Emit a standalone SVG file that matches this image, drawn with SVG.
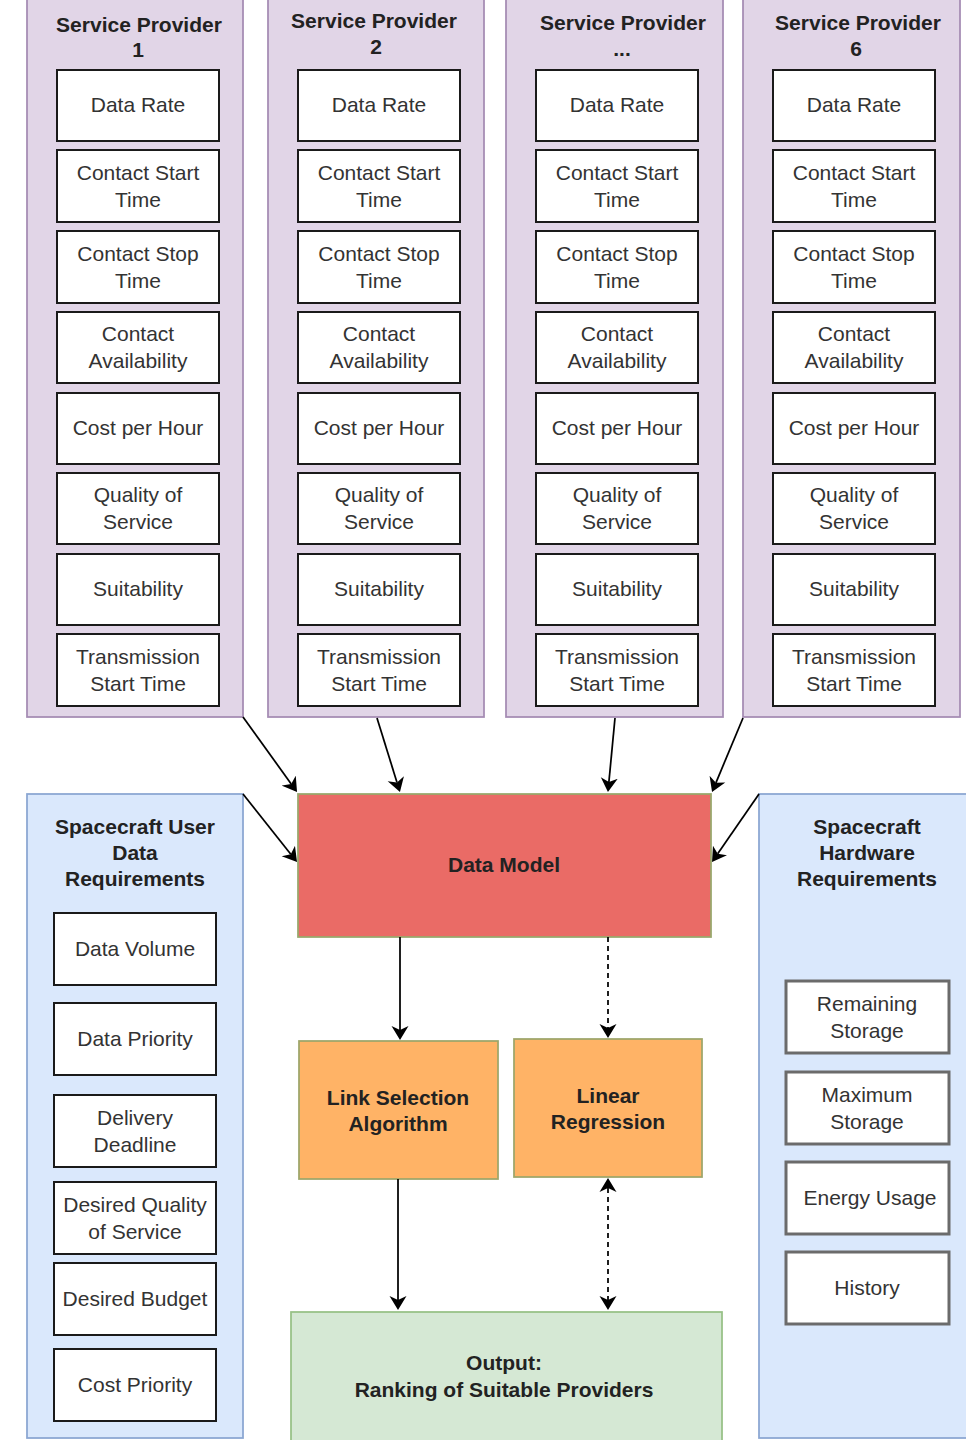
<svg xmlns="http://www.w3.org/2000/svg" width="966" height="1440" viewBox="0 0 966 1440">
  <style>
    text { font-family: "Liberation Sans", Arial, sans-serif; font-size: 21px; text-anchor: middle; fill: #333333; }
    .title { font-weight: bold; fill: #222222; }
    .provider { fill: #e1d5e7; stroke: #a48bb3; stroke-width: 1.75; }
    .item { fill: #ffffff; stroke: #1a1a1a; stroke-width: 2; }
    .hwitem { fill: #ffffff; stroke: #6b6b6b; stroke-width: 3; }
    .req { fill: #dae8fc; stroke: #8aa6d2; stroke-width: 1.75; }
    .model { fill: #ea6b66; stroke: #98a86c; stroke-width: 1.75; }
    .algo { fill: #ffb366; stroke: #9ea66a; stroke-width: 1.75; }
    .out { fill: #d5e8d4; stroke: #97c186; stroke-width: 1.75; }
    .edge { fill: none; stroke: #000000; stroke-width: 1.75; }
    .dashed { stroke-dasharray: 5 4; }
  </style>
  <defs>
    <marker id="arrow" viewBox="0 0 14 18" refX="4" refY="9" markerWidth="14" markerHeight="18" markerUnits="userSpaceOnUse" orient="auto-start-reverse">
      <path d="M14,9 L0,0.5 L4,9 L0,17.5 Z" fill="#000000"/>
    </marker>
  </defs>

  <rect width="966" height="1440" fill="#ffffff"/>

  <!-- Service provider 1 -->
  <g id="provider-1">
    <rect class="provider" x="27" y="-5" width="216" height="722"/>
    <text class="title" x="139" y="32">Service Provider</text>
    <text class="title" x="138" y="57">1</text>
    <rect class="item" x="57" y="70" width="162" height="71"/>
    <text x="138" y="112">Data Rate</text>
    <rect class="item" x="57" y="150" width="162" height="72"/>
    <text x="138" y="180">Contact Start</text>
    <text x="138" y="207">Time</text>
    <rect class="item" x="57" y="231" width="162" height="72"/>
    <text x="138" y="261">Contact Stop</text>
    <text x="138" y="288">Time</text>
    <rect class="item" x="57" y="312" width="162" height="71"/>
    <text x="138" y="341">Contact</text>
    <text x="138" y="368">Availability</text>
    <rect class="item" x="57" y="393" width="162" height="71"/>
    <text x="138" y="435">Cost per Hour</text>
    <rect class="item" x="57" y="473" width="162" height="71"/>
    <text x="138" y="502">Quality of</text>
    <text x="138" y="529">Service</text>
    <rect class="item" x="57" y="554" width="162" height="71"/>
    <text x="138" y="596">Suitability</text>
    <rect class="item" x="57" y="634" width="162" height="72"/>
    <text x="138" y="664">Transmission</text>
    <text x="138" y="691">Start Time</text>
  </g>

  <!-- Service provider 2 -->
  <g id="provider-2">
    <rect class="provider" x="268" y="-5" width="216" height="722"/>
    <text class="title" x="374" y="28">Service Provider</text>
    <text class="title" x="376" y="54">2</text>
    <rect class="item" x="298" y="70" width="162" height="71"/>
    <text x="379" y="112">Data Rate</text>
    <rect class="item" x="298" y="150" width="162" height="72"/>
    <text x="379" y="180">Contact Start</text>
    <text x="379" y="207">Time</text>
    <rect class="item" x="298" y="231" width="162" height="72"/>
    <text x="379" y="261">Contact Stop</text>
    <text x="379" y="288">Time</text>
    <rect class="item" x="298" y="312" width="162" height="71"/>
    <text x="379" y="341">Contact</text>
    <text x="379" y="368">Availability</text>
    <rect class="item" x="298" y="393" width="162" height="71"/>
    <text x="379" y="435">Cost per Hour</text>
    <rect class="item" x="298" y="473" width="162" height="71"/>
    <text x="379" y="502">Quality of</text>
    <text x="379" y="529">Service</text>
    <rect class="item" x="298" y="554" width="162" height="71"/>
    <text x="379" y="596">Suitability</text>
    <rect class="item" x="298" y="634" width="162" height="72"/>
    <text x="379" y="664">Transmission</text>
    <text x="379" y="691">Start Time</text>
  </g>

  <!-- Further service providers -->
  <g id="provider-n">
    <rect class="provider" x="506" y="-5" width="217" height="722"/>
    <text class="title" x="623" y="30">Service Provider</text>
    <text class="title" x="622" y="56">...</text>
    <rect class="item" x="536" y="70" width="162" height="71"/>
    <text x="617" y="112">Data Rate</text>
    <rect class="item" x="536" y="150" width="162" height="72"/>
    <text x="617" y="180">Contact Start</text>
    <text x="617" y="207">Time</text>
    <rect class="item" x="536" y="231" width="162" height="72"/>
    <text x="617" y="261">Contact Stop</text>
    <text x="617" y="288">Time</text>
    <rect class="item" x="536" y="312" width="162" height="71"/>
    <text x="617" y="341">Contact</text>
    <text x="617" y="368">Availability</text>
    <rect class="item" x="536" y="393" width="162" height="71"/>
    <text x="617" y="435">Cost per Hour</text>
    <rect class="item" x="536" y="473" width="162" height="71"/>
    <text x="617" y="502">Quality of</text>
    <text x="617" y="529">Service</text>
    <rect class="item" x="536" y="554" width="162" height="71"/>
    <text x="617" y="596">Suitability</text>
    <rect class="item" x="536" y="634" width="162" height="72"/>
    <text x="617" y="664">Transmission</text>
    <text x="617" y="691">Start Time</text>
  </g>

  <!-- Service provider 6 -->
  <g id="provider-6">
    <rect class="provider" x="743" y="-5" width="217" height="722"/>
    <text class="title" x="858" y="30">Service Provider</text>
    <text class="title" x="856" y="56">6</text>
    <rect class="item" x="773" y="70" width="162" height="71"/>
    <text x="854" y="112">Data Rate</text>
    <rect class="item" x="773" y="150" width="162" height="72"/>
    <text x="854" y="180">Contact Start</text>
    <text x="854" y="207">Time</text>
    <rect class="item" x="773" y="231" width="162" height="72"/>
    <text x="854" y="261">Contact Stop</text>
    <text x="854" y="288">Time</text>
    <rect class="item" x="773" y="312" width="162" height="71"/>
    <text x="854" y="341">Contact</text>
    <text x="854" y="368">Availability</text>
    <rect class="item" x="773" y="393" width="162" height="71"/>
    <text x="854" y="435">Cost per Hour</text>
    <rect class="item" x="773" y="473" width="162" height="71"/>
    <text x="854" y="502">Quality of</text>
    <text x="854" y="529">Service</text>
    <rect class="item" x="773" y="554" width="162" height="71"/>
    <text x="854" y="596">Suitability</text>
    <rect class="item" x="773" y="634" width="162" height="72"/>
    <text x="854" y="664">Transmission</text>
    <text x="854" y="691">Start Time</text>
  </g>

  <!-- Spacecraft user data requirements -->
  <g id="user-requirements">
    <rect class="req" x="27" y="794" width="216" height="644"/>
    <text class="title" x="135" y="834">Spacecraft User</text>
    <text class="title" x="135" y="860">Data</text>
    <text class="title" x="135" y="886">Requirements</text>
    <rect class="item" x="54" y="913" width="162" height="72"/>
    <text x="135" y="956">Data Volume</text>
    <rect class="item" x="54" y="1003" width="162" height="72"/>
    <text x="135" y="1046">Data Priority</text>
    <rect class="item" x="54" y="1095" width="162" height="72"/>
    <text x="135" y="1125">Delivery</text>
    <text x="135" y="1152">Deadline</text>
    <rect class="item" x="54" y="1182" width="162" height="72"/>
    <text x="135" y="1212">Desired Quality</text>
    <text x="135" y="1239">of Service</text>
    <rect class="item" x="54" y="1263" width="162" height="72"/>
    <text x="135" y="1306">Desired Budget</text>
    <rect class="item" x="54" y="1349" width="162" height="72"/>
    <text x="135" y="1392">Cost Priority</text>
  </g>

  <!-- Spacecraft hardware requirements -->
  <g id="hardware-requirements">
    <rect class="req" x="759" y="794" width="220" height="644"/>
    <text class="title" x="867" y="834">Spacecraft</text>
    <text class="title" x="867" y="860">Hardware</text>
    <text class="title" x="867" y="886">Requirements</text>
    <rect class="hwitem" x="786" y="981" width="163" height="72"/>
    <text x="867" y="1011">Remaining</text>
    <text x="867" y="1038">Storage</text>
    <rect class="hwitem" x="786" y="1072" width="163" height="72"/>
    <text x="867" y="1102">Maximum</text>
    <text x="867" y="1129">Storage</text>
    <rect class="hwitem" x="786" y="1162" width="163" height="72"/>
    <text x="870" y="1205">Energy Usage</text>
    <rect class="hwitem" x="786" y="1252" width="163" height="72"/>
    <text x="867" y="1295">History</text>
  </g>

  <!-- Data model -->
  <g id="data-model">
    <rect class="model" x="298" y="794" width="413" height="143"/>
    <text class="title" x="504" y="872">Data Model</text>
  </g>

  <!-- Link selection algorithm -->
  <g id="link-selection">
    <rect class="algo" x="299" y="1041" width="199" height="138"/>
    <text class="title" x="398" y="1105">Link Selection</text>
    <text class="title" x="398" y="1131">Algorithm</text>
  </g>

  <!-- Linear regression -->
  <g id="linear-regression">
    <rect class="algo" x="514" y="1039" width="188" height="138"/>
    <text class="title" x="608" y="1103">Linear</text>
    <text class="title" x="608" y="1129">Regression</text>
  </g>

  <!-- Output -->
  <g id="output">
    <rect class="out" x="291" y="1312" width="431" height="140"/>
    <text class="title" x="504" y="1370">Output:</text>
    <text class="title" x="504" y="1397">Ranking of Suitable Providers</text>
  </g>

  <!-- Connectors -->
  <g id="connectors">
    <path class="edge" d="M243,717 L291.2,783.9" marker-end="url(#arrow)"/>
    <path class="edge" d="M377,718 L397,782.5" marker-end="url(#arrow)"/>
    <path class="edge" d="M615,718 L608.9,782" marker-end="url(#arrow)"/>
    <path class="edge" d="M743,718 L715.9,782.8" marker-end="url(#arrow)"/>
    <path class="edge" d="M243,794 L290.8,854.2" marker-end="url(#arrow)"/>
    <path class="edge" d="M759,794 L717.7,853.8" marker-end="url(#arrow)"/>
    <path class="edge" d="M400,937 L400,1030" marker-end="url(#arrow)"/>
    <path class="edge dashed" d="M608,937 L608,1028" marker-end="url(#arrow)"/>
    <path class="edge" d="M398,1179 L398,1300" marker-end="url(#arrow)"/>
    <path class="edge dashed" d="M608,1188 L608,1300" marker-start="url(#arrow)" marker-end="url(#arrow)"/>
  </g>
</svg>
